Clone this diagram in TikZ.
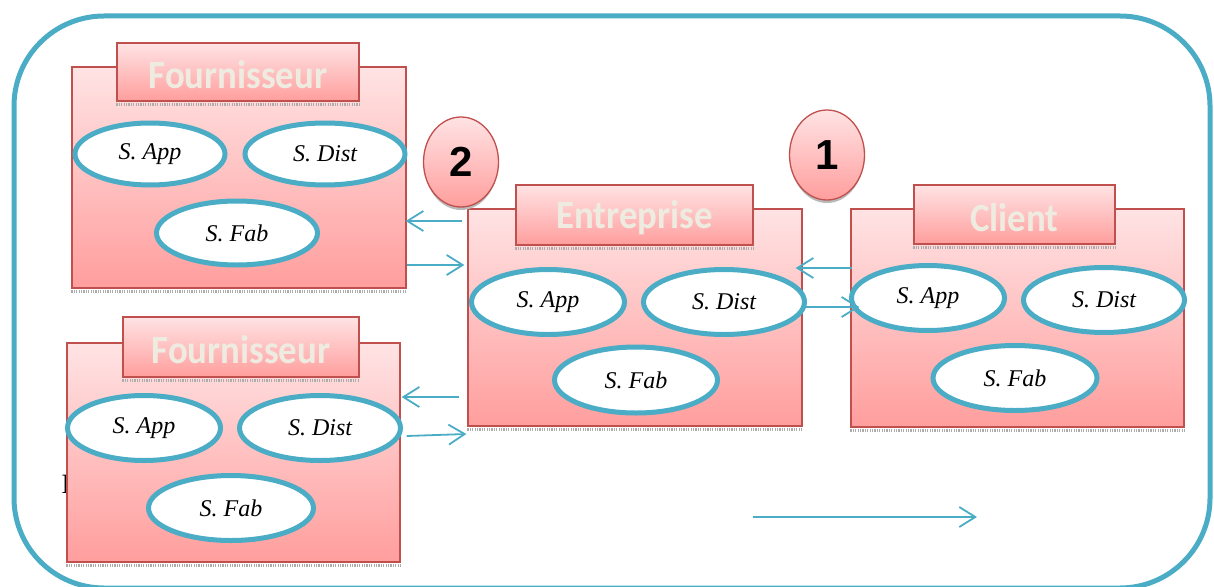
\documentclass[tikz,border=0pt]{standalone}
\usepackage{fontspec}
\setmainfont{Liberation Serif}
\newfontfamily\calib{Carlito}
\newfontfamily\arialf{Liberation Sans}
\usetikzlibrary{shapes.geometric,arrows.meta}
\definecolor{teal5}{HTML}{4BACC6}
\definecolor{boxred}{HTML}{C0504D}
\definecolor{pinktop}{HTML}{FFE3E4}
\definecolor{pinkbot}{HTML}{FF9E9D}
\definecolor{titlecol}{HTML}{EEECE1}
\newcommand{\ttlx}[1]{\raisebox{-3pt}[\height][\depth]{\scalebox{0.92}[1]{#1}}}
\tikzset{
 pbox/.style={draw=boxred, line width=1.3pt, top color=pinktop, bottom color=pinkbot, inner sep=0pt},
 ptab/.style={pbox, font=\calib\bfseries\fontsize{40}{42}\selectfont, text=titlecol},
 svc/.style={ellipse, draw=teal5, line width=5pt, fill=white, inner sep=0pt, font=\itshape\fontsize{24}{26}\selectfont},
 num/.style={ellipse, draw=boxred, line width=1.3pt, top color=pinktop, bottom color=pinkbot, inner sep=0pt, minimum width=75pt, minimum height=90pt, font=\arialf\bfseries\fontsize{42}{42}\selectfont},
 numshd/.style={ellipse, fill=gray!55, inner sep=0pt, minimum width=73pt, minimum height=90pt},
 arr/.style={draw=teal5, line width=1.8pt, -{Straight Barb[length=16pt,width=20pt]}},
 shd/.style={draw=gray!65, line width=3pt, dash pattern=on 1.2pt off 1.2pt},
 outerbox/.style={draw=teal5, line width=5pt, rounded corners=90pt}
}
\begin{document}
\begin{tikzpicture}[x=1pt,y=-1pt]
\useasboundingbox (0,0) rectangle (1214,586);
\draw[outerbox] (14,16) rectangle (1210,588);

% stray text fragment
\node[font=\fontsize{28}{28}\selectfont, anchor=base, inner sep=0pt] (frag) at (66,493) {I};

% Fournisseur 1
\node[pbox, minimum width=334pt, minimum height=221pt] (f1) at (239,177.5) {};
\draw[shd] ([shift={(0,3)}]f1.south west) -- ([shift={(0,3)}]f1.south east);
\node[ptab, minimum width=242pt, minimum height=58pt] (f1t) at (238,72) {\ttlx{Fournisseur}};
\draw[shd] ([shift={(0,3)}]f1t.south west) -- ([shift={(0,3)}]f1t.south east);
\node[svc, minimum width=150pt, minimum height=62pt] (f1a) at (150,154) {S. App};
\node[svc, minimum width=160pt, minimum height=62pt] (f1d) at (325,154) {S. Dist};
\node[svc, minimum width=161pt, minimum height=64pt] (f1f) at (237,233) {S. Fab};

% Fournisseur 2
\node[pbox, minimum width=333pt, minimum height=219pt] (f2) at (233.5,452.5) {};
\draw[shd] ([shift={(0,3)}]f2.south west) -- ([shift={(0,3)}]f2.south east);
\node[ptab, minimum width=236pt, minimum height=60pt] (f2t) at (241,347) {\ttlx{Fournisseur}};
\draw[shd] ([shift={(0,3)}]f2t.south west) -- ([shift={(0,3)}]f2t.south east);
\node[svc, minimum width=153pt, minimum height=65pt] (f2a) at (144,428) {S. App};
\node[svc, minimum width=161pt, minimum height=65pt] (f2d) at (320,428) {S. Dist};
\node[svc, minimum width=165pt, minimum height=65pt] (f2f) at (231,508) {S. Fab};

% Entreprise
\node[pbox, minimum width=334pt, minimum height=217pt] (ent) at (635,317.5) {};
\draw[shd] ([shift={(0,3)}]ent.south west) -- ([shift={(0,3)}]ent.south east);
\node[ptab, minimum width=237pt, minimum height=60pt] (entt) at (634.5,215) {\ttlx{Entreprise}};
\draw[shd] ([shift={(0,3)}]entt.south west) -- ([shift={(0,3)}]entt.south east);
\node[svc, minimum width=153pt, minimum height=65pt] (enta) at (548,302) {S. App};
\node[svc, minimum width=161pt, minimum height=65pt] (entd) at (724,302) {S. Dist};
\node[svc, minimum width=163pt, minimum height=66pt] (entf) at (636,380) {S. Fab};

% Client
\node[pbox, minimum width=333pt, minimum height=218pt] (cli) at (1017.5,318) {};
\draw[shd] ([shift={(0,3)}]cli.south west) -- ([shift={(0,3)}]cli.south east);
\node[ptab, minimum width=201pt, minimum height=59pt] (clit) at (1014.5,214.5) {\ttlx{Client}};
\draw[shd] ([shift={(0,3)}]clit.south west) -- ([shift={(0,3)}]clit.south east);
\node[svc, minimum width=153pt, minimum height=65pt] (clia) at (928,298) {S. App};
\node[svc, minimum width=161pt, minimum height=65pt] (clid) at (1104,300) {S. Dist};
\node[svc, minimum width=164pt, minimum height=65pt] (clif) at (1015,378) {S. Fab};

% numbered circles
\node[numshd] (c2s) at (461,165) {};
\node[num] (c2) at (461,162) {2};
\node[numshd] (c1s) at (827,158) {};
\node[num] (c1) at (827,155) {1};

% arrows
\draw[arr] ([shift={(-5,-96.5)}]ent.west) -- ([shift={(-1,43.5)}]f1.east);
\draw[arr] ([shift={(0,87.5)}]f1.east) -- ([shift={(-3,-52.5)}]ent.west);
\draw[arr] ([shift={(-8,79.5)}]ent.west) -- ([shift={(1,-55.5)}]f2.east);
\draw[arr] ([shift={(6,-16.5)}]f2.east) -- ([shift={(-1,116.5)}]ent.west);
\draw[arr] ([shift={(2,-50)}]cli.west) -- ([shift={(-7,-49.5)}]ent.east);
\draw[arr] ([shift={(0,-10.5)}]ent.east) -- ([shift={(9,-11)}]cli.west);
\coordinate (la) at (753,517);
\coordinate (lb) at (977,517);
\draw[arr] (la) -- (lb);
\end{tikzpicture}
\end{document}
